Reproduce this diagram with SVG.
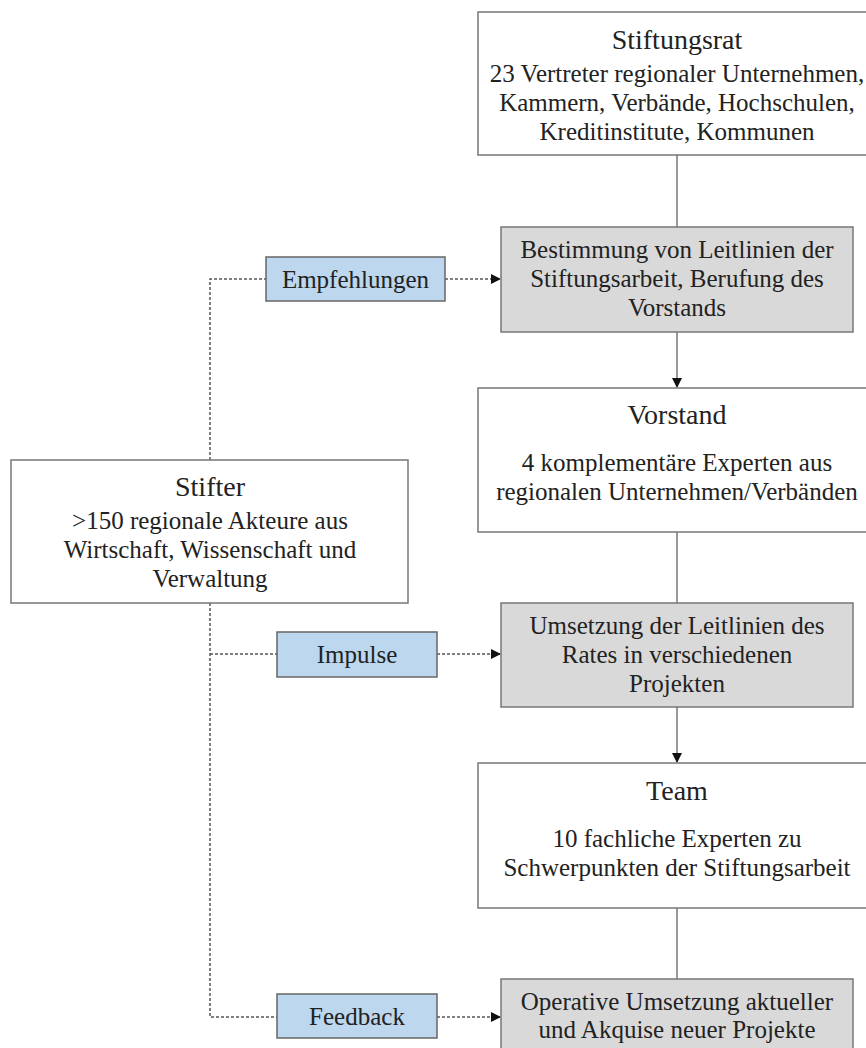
<svg xmlns="http://www.w3.org/2000/svg" width="866" height="1048" viewBox="0 0 866 1048">
<style>
text{font-family:"Liberation Serif","Times New Roman",serif;fill:#222;text-anchor:middle}
.t{font-size:28px}
.b{font-size:25px}
.w{fill:#fff;stroke:#777;stroke-width:1.5}
.g{fill:#d9d9d9;stroke:#777;stroke-width:1.5}
.l{fill:#bdd7ee;stroke:#666;stroke-width:1.5}
.s{stroke:#777;stroke-width:1.5;fill:none}
.d{stroke:#555;stroke-width:1.5;fill:none;stroke-dasharray:3 2}
</style>
<defs>
<marker id="ah" markerWidth="10" markerHeight="10" refX="9" refY="5" orient="auto" markerUnits="userSpaceOnUse">
<path d="M0,0 L10,5 L0,10 Z" fill="#111"/>
</marker>
</defs>
<rect width="866" height="1048" fill="#fff"/>
<g id="connectors">
<line class="s" x1="677" y1="155" x2="677" y2="227"/>
<line class="s" x1="677" y1="332" x2="677" y2="387" marker-end="url(#ah)"/>
<line class="s" x1="677" y1="532" x2="677" y2="603"/>
<line class="s" x1="677" y1="707" x2="677" y2="762" marker-end="url(#ah)"/>
<line class="s" x1="677" y1="908" x2="677" y2="979"/>
<polyline class="d" points="210,460 210,279 266,279"/>
<line class="d" x1="445" y1="279" x2="500" y2="279" marker-end="url(#ah)"/>
<polyline class="d" points="210,603 210,1017 277,1017"/>
<line class="d" x1="210" y1="654" x2="277" y2="654"/>
<line class="d" x1="437" y1="654" x2="500" y2="654" marker-end="url(#ah)"/>
<line class="d" x1="437" y1="1017" x2="500" y2="1017" marker-end="url(#ah)"/>
</g>
<g id="stiftungsrat">
<rect class="w" x="478" y="12" width="400" height="143"/>
<text class="t" x="677" y="49">Stiftungsrat</text>
<text class="b" x="677" y="82">23 Vertreter regionaler Unternehmen,</text>
<text class="b" x="677" y="111">Kammern, Verbände, Hochschulen,</text>
<text class="b" x="677" y="140">Kreditinstitute, Kommunen</text>
</g>
<g id="bestimmung">
<rect class="g" x="501" y="227" width="352" height="105"/>
<text class="b" x="677" y="258">Bestimmung von Leitlinien der</text>
<text class="b" x="677" y="287">Stiftungsarbeit, Berufung des</text>
<text class="b" x="677" y="316">Vorstands</text>
</g>
<g id="vorstand">
<rect class="w" x="478" y="388" width="400" height="144"/>
<text class="t" x="677" y="424">Vorstand</text>
<text class="b" x="677" y="471">4 komplementäre Experten aus</text>
<text class="b" x="677" y="500">regionalen Unternehmen/Verbänden</text>
</g>
<g id="umsetzung">
<rect class="g" x="501" y="603" width="352" height="104"/>
<text class="b" x="677" y="634">Umsetzung der Leitlinien des</text>
<text class="b" x="677" y="663">Rates in verschiedenen</text>
<text class="b" x="677" y="692">Projekten</text>
</g>
<g id="team">
<rect class="w" x="478" y="763" width="400" height="145"/>
<text class="t" x="677" y="800">Team</text>
<text class="b" x="677" y="847">10 fachliche Experten zu</text>
<text class="b" x="677" y="876">Schwerpunkten der Stiftungsarbeit</text>
</g>
<g id="operative">
<rect class="g" x="501" y="979" width="352" height="90"/>
<text class="b" x="677" y="1010">Operative Umsetzung aktueller</text>
<text class="b" x="677" y="1038">und Akquise neuer Projekte</text>
</g>
<g id="stifter">
<rect class="w" x="11" y="460" width="397" height="143"/>
<text class="t" x="210" y="496">Stifter</text>
<text class="b" x="210" y="529">&gt;150 regionale Akteure aus</text>
<text class="b" x="210" y="558">Wirtschaft, Wissenschaft und</text>
<text class="b" x="210" y="587">Verwaltung</text>
</g>
<g id="empfehlungen">
<rect class="l" x="266" y="257" width="179" height="44"/>
<text class="b" x="355.5" y="288">Empfehlungen</text>
</g>
<g id="impulse">
<rect class="l" x="277" y="632" width="160" height="45"/>
<text class="b" x="357" y="663">Impulse</text>
</g>
<g id="feedback">
<rect class="l" x="277" y="994" width="160" height="44"/>
<text class="b" x="357" y="1025">Feedback</text>
</g>
</svg>
